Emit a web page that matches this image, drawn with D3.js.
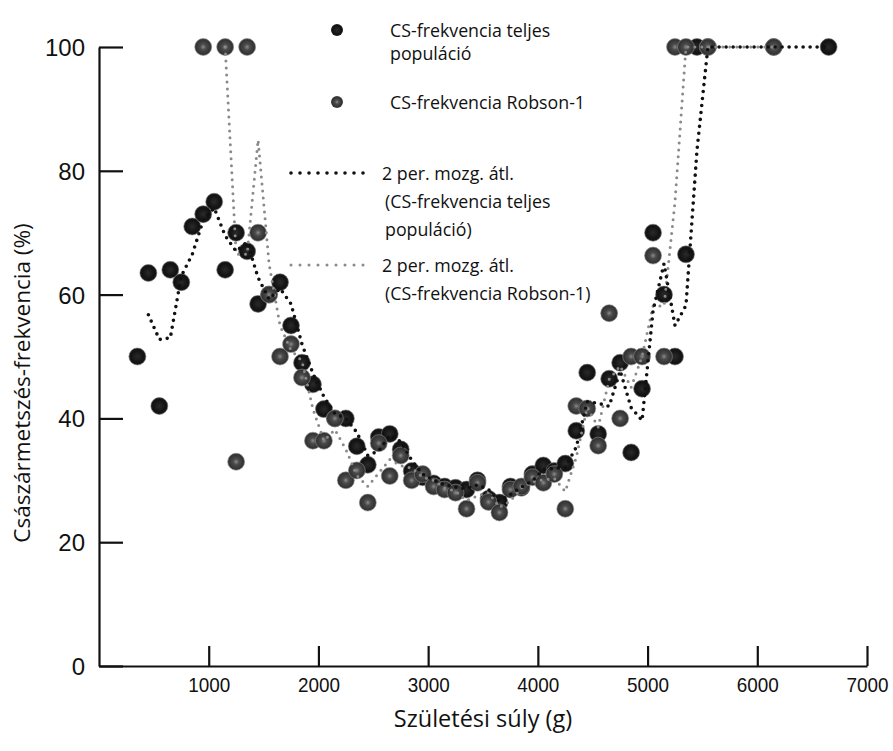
<!DOCTYPE html>
<html>
<head>
<meta charset="utf-8">
<script src="https://cdn.jsdelivr.net/npm/d3@7"></script>
<style>
  html, body { margin: 0; padding: 0; background: #fff; }
  svg { display: block; font-family: "Open Sans", "Noto Sans", sans-serif; }
</style>
</head>
<body>
<svg id="chart" width="893" height="751"></svg>
<script>
// ---- data ----
const totalWeight = [350,450,550,650,750,850,950,1050,1150,1250,1350,1450,1550,1650,1750,1850,1950,2050,2150,2250,2350,2450,2550,2650,2750,2850,2950,3050,3150,3250,3350,3450,3550,3650,3750,3850,3950,4050,4150,4250,4350,4450,4550,4650,4750,4850,4950,5050,5150,5250,5350,5450,5550,6150,6650];
const totalRate   = [50,63.5,42,64,62,71,73,75,64,70,67,58.5,60,62,55,49,45.5,41.5,40,40,35.5,32.5,37,37.5,35,31.5,30.5,29.5,29,28.8,28.5,30,27,26.4,29,28.8,31,32.4,31.5,32.7,38,47.4,37.5,46.4,49,34.5,44.8,70,60,50,66.5,100,100,100,100];

const robsonWeight = [950,1150,1250,1350,1450,1550,1650,1750,1850,1950,2050,2150,2250,2350,2450,2550,2650,2750,2850,2950,3050,3150,3250,3350,3450,3550,3650,3750,3850,3950,4050,4150,4250,4350,4450,4550,4650,4750,4850,4950,5050,5150,5250,5350,5550,6150];
const robsonRate   = [100,100,33,100,70,60,50,52,46.6,36.4,36.4,40,30,31.6,26.4,36,30.7,34,30,31,29,28.5,28,25.4,29.6,26.5,24.8,28.5,29,30.5,29.6,31,25.4,42,41.6,35.6,57,40,50,50,66.3,50,100,100,100,100];

const xTicks = [1000,2000,3000,4000,5000,6000,7000];
const yTicks = [0,20,40,60,80,100];

const xTitle = "Születési súly (g)";
const yTitle = "Császármetszés-frekvencia (%)";
const legendLabels = [
  ["CS-frekvencia teljes", "populáció"],
  ["CS-frekvencia Robson-1"],
  ["2 per. mozg. átl.", "(CS-frekvencia teljes", "populáció)"],
  ["2 per. mozg. átl.", "(CS-frekvencia Robson-1)"]
];

// 2-period moving average (trendline definition)
function movingAvg(xs, ys) {
  const out = [];
  for (let i = 1; i < xs.length; i++) out.push([xs[i], (ys[i - 1] + ys[i]) / 2]);
  return out;
}

// ---- drawing ----
const svg = d3.select("#chart");
const x = d3.scaleLinear().domain([0, 7000]).range([99, 867]);
const y = d3.scaleLinear().domain([0, 100]).range([666, 47]);

const defs = svg.append("defs");
const gT = defs.append("radialGradient").attr("id", "gTotal");
gT.append("stop").attr("offset", "0%").attr("stop-color", "#2a2a2a");
gT.append("stop").attr("offset", "75%").attr("stop-color", "#121212");
gT.append("stop").attr("offset", "100%").attr("stop-color", "#1e1e1e");
const gR = defs.append("radialGradient").attr("id", "gRobson");
gR.append("stop").attr("offset", "0%").attr("stop-color", "#8a8a8a");
gR.append("stop").attr("offset", "35%").attr("stop-color", "#4a4a4a");
gR.append("stop").attr("offset", "85%").attr("stop-color", "#333");
gR.append("stop").attr("offset", "100%").attr("stop-color", "#444");

// axes
const yAxis = d3.axisLeft(y).tickValues(yTicks).tickSizeInner(-24).tickSizeOuter(0).tickPadding(14);
const xAxis = d3.axisBottom(x).tickValues(xTicks).tickSizeInner(-20).tickSizeOuter(0).tickPadding(11).tickFormat(d3.format("d"));

const gy = svg.append("g").attr("transform", `translate(${x(0)},0)`).call(yAxis);
gy.selectAll("text").attr("font-size", 24).attr("fill", "#111").attr("dy", "0.35em");
gy.selectAll("line,path").attr("stroke", "#111").attr("stroke-width", 2.2);

const gx = svg.append("g").attr("transform", `translate(0,${y(0)})`).call(xAxis);
gx.selectAll("text").attr("font-size", 21).attr("fill", "#111")
  .attr("textLength", 42).attr("lengthAdjust", "spacingAndGlyphs");
gx.selectAll("line,path").attr("stroke", "#111").attr("stroke-width", 2.2);

// titles
svg.append("text").attr("x", 483).attr("y", 727).attr("text-anchor", "middle")
  .attr("font-size", 23.5).attr("fill", "#111").text(xTitle);
svg.append("text").attr("transform", "translate(30,383) rotate(-90)").attr("text-anchor", "middle")
  .attr("font-size", 22.5).attr("fill", "#111").text(yTitle);

// points
svg.append("g").selectAll("circle").data(totalWeight.map((w, i) => [w, totalRate[i]])).join("circle")
  .attr("cx", d => x(d[0])).attr("cy", d => y(d[1])).attr("r", 8.5)
  .attr("fill", "url(#gTotal)").attr("stroke", "#777").attr("stroke-width", 0.8).attr("stroke-opacity", 0.7);
svg.append("g").selectAll("circle").data(robsonWeight.map((w, i) => [w, robsonRate[i]])).join("circle")
  .attr("cx", d => x(d[0])).attr("cy", d => y(d[1])).attr("r", 8.5)
  .attr("fill", "url(#gRobson)").attr("stroke", "#888").attr("stroke-width", 0.8).attr("stroke-opacity", 0.7);

// moving averages
const line = d3.line().x(d => x(d[0])).y(d => y(d[1]));
svg.append("path").datum(movingAvg(robsonWeight, robsonRate)).attr("d", line)
  .attr("fill", "none").attr("stroke", "#8a8a8a").attr("stroke-width", 3)
  .attr("stroke-linecap", "round").attr("stroke-dasharray", "0 7");
svg.append("path").datum(movingAvg(totalWeight, totalRate)).attr("d", line)
  .attr("fill", "none").attr("stroke", "#111").attr("stroke-width", 3.6)
  .attr("stroke-linecap", "round").attr("stroke-dasharray", "0 7");

// legend
const lg = svg.append("g");
lg.append("circle").attr("cx", 337).attr("cy", 30).attr("r", 6).attr("fill", "url(#gTotal)");
lg.append("circle").attr("cx", 337).attr("cy", 102).attr("r", 6).attr("fill", "url(#gRobson)");
lg.append("line").attr("x1", 291).attr("x2", 372).attr("y1", 173).attr("y2", 173)
  .attr("stroke", "#111").attr("stroke-width", 3.6).attr("stroke-linecap", "round").attr("stroke-dasharray", "0 9");
lg.append("line").attr("x1", 291).attr("x2", 372).attr("y1", 265).attr("y2", 265)
  .attr("stroke", "#8a8a8a").attr("stroke-width", 3).attr("stroke-linecap", "round").attr("stroke-dasharray", "0 9");

const legendY = [30, 102, 173, 265];
const legendGap = [23, 0, 28, 28];
legendLabels.forEach((lines, k) => {
  const x0 = k < 2 ? 390 : 382;
  const t = lg.append("text").attr("x", x0).attr("y", legendY[k])
    .attr("font-size", 17.8).attr("fill", "#111").attr("dominant-baseline", "central");
  lines.forEach((s, j) => {
    t.append("tspan").attr("x", (k < 2 || j === 0) ? x0 : 385)
      .attr("dy", j === 0 ? 0 : legendGap[k]).text(s);
  });
});
</script>
</body>
</html>
